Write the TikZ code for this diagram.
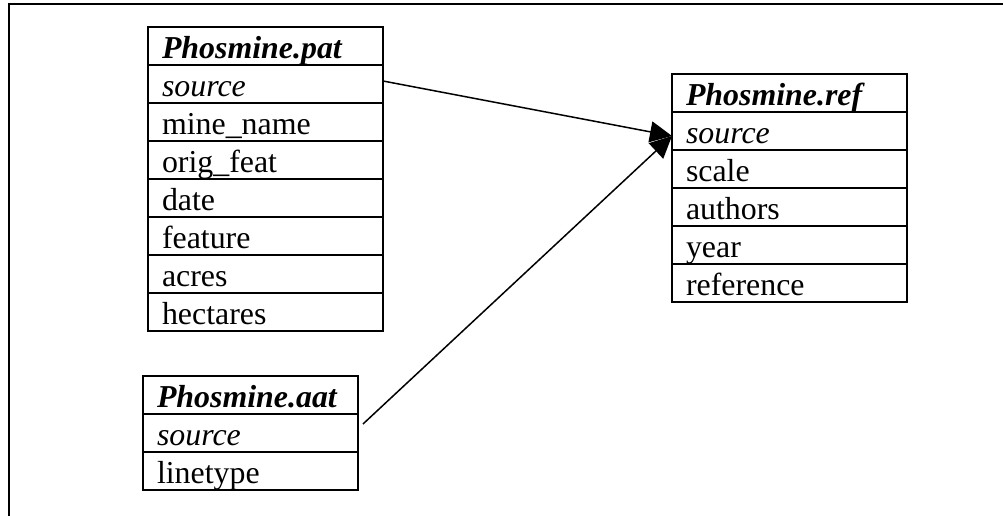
\documentclass[tikz,border=0pt]{standalone}
\usepackage{fontspec}
\setmainfont{Liberation Serif}
\usetikzlibrary{arrows.meta}

\tikzset{
  field/.style={draw, line width=2bp, minimum height=38bp, inner ysep=0.5bp, inner xsep=14bp,
    text height=31bp, text depth=6bp, outer sep=0pt, font=\fontsize{32}{36}\selectfont},
  wide/.style={field, text width=207bp},
  narrow/.style={field, text width=187bp},
  head/.style={font=\fontsize{32}{36}\selectfont\bfseries\itshape},
  key/.style={font=\fontsize{32}{36}\selectfont\itshape},
  link/.style={line width=1.5bp, -{Triangle[length=22bp,width=21bp]}}
}

\begin{document}
\begin{tikzpicture}[x=1bp,y=-1bp]
\useasboundingbox (0,0) rectangle (1003,516);
\draw[line width=2bp] (9,516) -- (9,4) -- (1003,4);
% pat table
\node[wide,head] (pat) at (265.5,46) {Phosmine.pat};
\node[wide,key] (pat-src) at (265.5,84) {source};
\node[wide] (pat-name) at (265.5,122) {mine\_name};
\node[wide] (pat-feat) at (265.5,160) {orig\_feat};
\node[wide] (pat-date) at (265.5,198) {date};
\node[wide] (pat-type) at (265.5,236) {feature};
\node[wide] (pat-acres) at (265.5,274) {acres};
\node[wide] (pat-ha) at (265.5,312) {hectares};
% ref table
\node[wide,head] (ref) at (789.5,93) {Phosmine.ref};
\node[wide,key] (ref-src) at (789.5,131) {source};
\node[wide] (ref-scale) at (789.5,169) {scale};
\node[wide] (ref-auth) at (789.5,207) {authors};
\node[wide] (ref-year) at (789.5,245) {year};
\node[wide] (ref-ref) at (789.5,283) {reference};
% aat table
\node[narrow,head] (aat) at (250.5,395) {Phosmine.aat};
\node[narrow,key] (aat-src) at (250.5,433) {source};
\node[narrow] (aat-line) at (250.5,471) {linetype};
% links
\draw[link] ([yshift=3bp]pat-src.east) -- ([yshift=-5bp]ref-src.west);
\draw[link] ([xshift=5bp,yshift=9bp]aat-src.east) -- ([yshift=-5bp]ref-src.west);
\end{tikzpicture}
\end{document}
